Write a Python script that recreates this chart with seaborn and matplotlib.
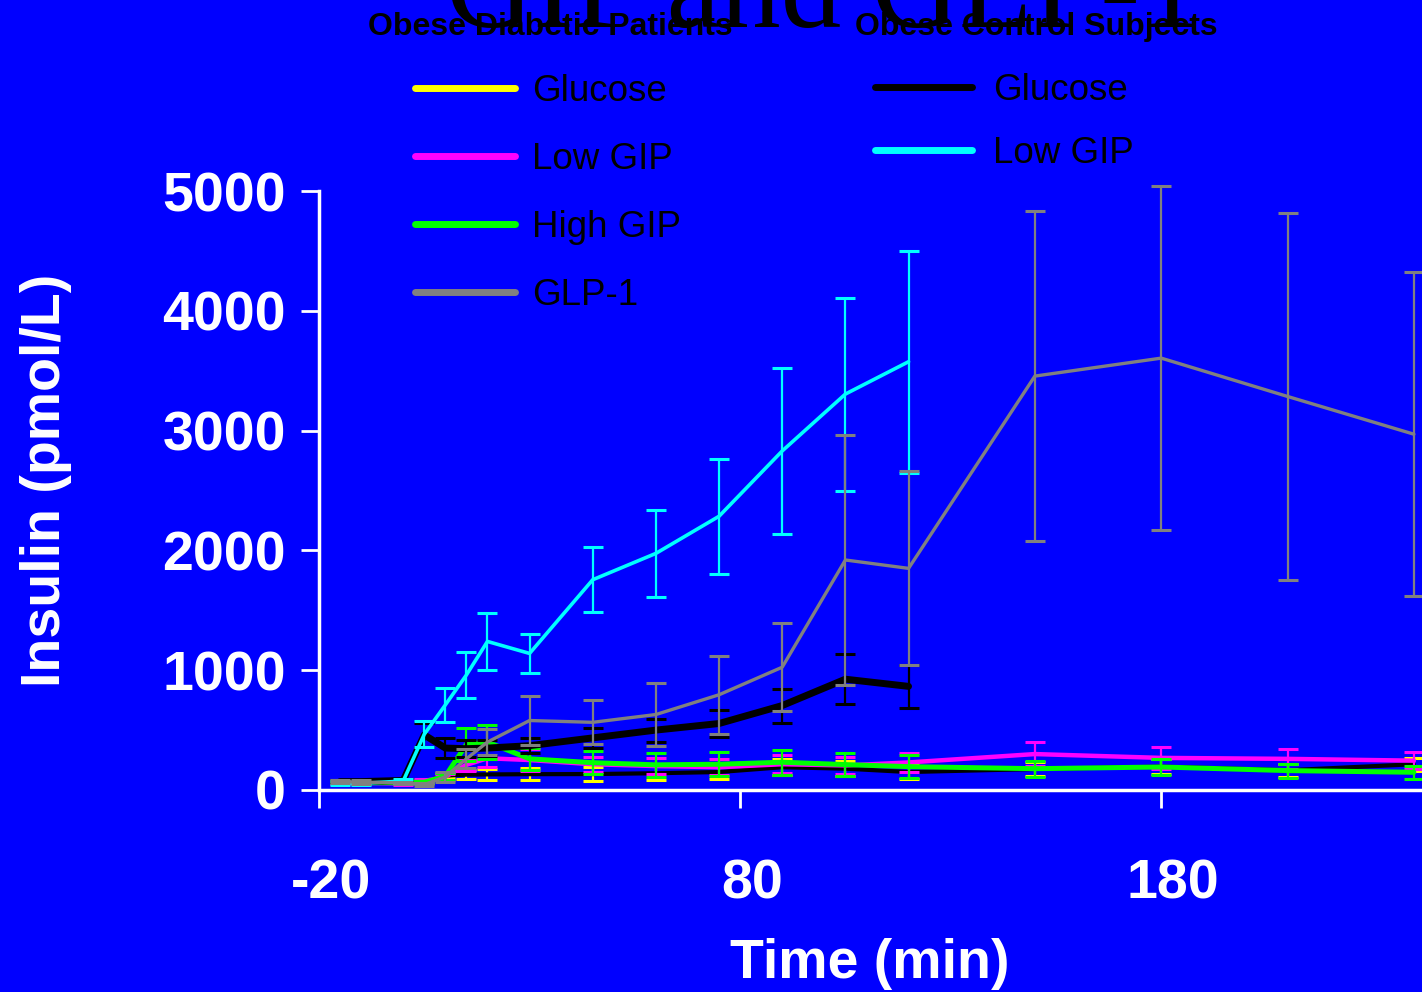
import matplotlib
matplotlib.use("Agg")
import matplotlib.pyplot as plt
import matplotlib.transforms as mtransforms
from matplotlib.lines import Line2D
import numpy as np
import pandas as pd
import seaborn as sns

# ---------------- data ----------------
t_control = [-15, -10, 0, 5, 10, 15, 20, 30, 45, 60, 75, 90, 105, 120]
t_diabetic = [-15, -10, 0, 5, 10, 15, 20, 30, 45, 60, 75, 90, 105, 120, 150, 180, 210, 240]

# Obese diabetic patients
diab_glucose = [70, 70, 68, 70, 120, 128, 130, 132, 133, 140, 150, 190, 178, 150, 175, 195, 165, 215]
diab_glucose_err = [10, 10, 10, 12, 20, 40, 45, 50, 55, 60, 60, 65, 65, 60, 60, 60, 55, 55]
diab_lowgip = [60, 60, 55, 75, 110, 210, 265, 250, 215, 200, 190, 215, 205, 230, 300, 268, 260, 245]
diab_lowgip_err = [10, 10, 10, 15, 25, 50, 75, 95, 63, 67, 65, 75, 70, 80, 100, 90, 85, 70]
diab_highgip = [65, 60, 62, 65, 115, 380, 400, 260, 228, 210, 215, 232, 212, 195, 178, 192, 162, 148]
diab_highgip_err = [10, 10, 10, 12, 30, 140, 145, 92, 95, 100, 100, 105, 98, 95, 67, 65, 58, 55]
diab_glp1 = [70, 65, 60, 45, 110, 260, 400, 580, 565, 630, 795, 1025, 1920, 1850, 3455, 3605, 3285, 2970]
diab_glp1_err = [15, 15, 10, 15, 40, 80, 110, 205, 185, 260, 325, 367, 1040, 810, 1378, 1435, 1531, 1352]

# Obese control subjects
ctrl_glucose = [70, 70, 80, 460, 350, 345, 350, 370, 435, 500, 555, 705, 925, 865]
ctrl_glucose_err = [10, 10, 15, 100, 80, 70, 70, 60, 85, 96, 113, 142, 208, 180]
ctrl_lowgip = [60, 55, 75, 465, 710, 960, 1240, 1140, 1755, 1975, 2285, 2830, 3305, 3575]
ctrl_lowgip_err = [15, 15, 15, 110, 145, 190, 240, 165, 270, 365, 480, 690, 805, 925]

x_ticks = [-20, 80, 180]
y_ticks = [0, 1000, 2000, 3000, 4000, 5000]

title = "GIP and GLP-1"
group_titles = ["Obese Diabetic Patients", "Obese Control Subjects"]
diab_labels = ["Glucose", "Low GIP", "High GIP", "GLP-1"]
ctrl_labels = ["Glucose", "Low GIP"]

# ---------------- style ----------------
sns.set_style("ticks")
plt.rcParams["font.family"] = ["Liberation Sans", "DejaVu Sans"]

BLUE = "#0000FF"
W, H = 1422, 992
fig = plt.figure(figsize=(W / 100, H / 100), dpi=100, facecolor=BLUE)

x_left_px, x_right_px = 319, 1456
y_top_px, y_bot_px = 191, 790
ax = fig.add_axes([x_left_px / W, 1 - y_bot_px / H,
                   (x_right_px - x_left_px) / W, (y_bot_px - y_top_px) / H])
ax.set_facecolor(BLUE)

def series(t, v, e, color, lw, ecolor=None, z=2):
    df = pd.DataFrame({"t": t, "v": v})
    eb = ax.errorbar(t, v, yerr=e, fmt="none", ecolor=ecolor or color,
                     elinewidth=1.6, capsize=7, capthick=2.2, zorder=z)
    for art in eb.lines[1] + eb.lines[2]:
        art.set_clip_on(False)
    sns.lineplot(data=df, x="t", y="v", color=color, linewidth=lw,
                 ax=ax, legend=False, zorder=z + 0.5)

series(t_diabetic, diab_glucose, diab_glucose_err, "black", 3.0, ecolor="#FFFF00", z=2)
series(t_diabetic, diab_lowgip, diab_lowgip_err, "#FF00FF", 3.2, z=3)
series(t_diabetic, diab_highgip, diab_highgip_err, "#00FF00", 3.6, z=4)
series(t_control, ctrl_glucose, ctrl_glucose_err, "black", 5.0, z=5)
series(t_control, ctrl_lowgip, ctrl_lowgip_err, "#00FFFF", 2.6, z=6)
series(t_diabetic, diab_glp1, diab_glp1_err, "#808080", 2.4, z=7)

ax.set_xlim(-20, 250)
ax.set_ylim(0, 5000)
ax.set_xticks(x_ticks)
ax.set_yticks(y_ticks)
ax.set_xticklabels([str(v) for v in x_ticks])
ax.set_yticklabels([str(v) for v in y_ticks])

for s in ["top", "right"]:
    ax.spines[s].set_visible(False)
for s in ["left", "bottom"]:
    ax.spines[s].set_color("white")
    ax.spines[s].set_linewidth(2.5)

ax.tick_params(axis="both", direction="out", length=13, width=2, color="white",
               labelcolor="white")
ax.tick_params(axis="x", pad=36, labelsize=40)
ax.tick_params(axis="y", pad=11, labelsize=40)
for lab in ax.get_xticklabels() + ax.get_yticklabels():
    lab.set_fontweight("bold")
offset = mtransforms.ScaledTranslation(12 / 100, 0, fig.dpi_scale_trans)
for lab in ax.get_xticklabels():
    lab.set_transform(lab.get_transform() + offset)
ax.xaxis.get_major_ticks()[0].tick1line.set_color("black")
ax.yaxis.get_major_ticks()[0].tick1line.set_color("black")

ax.set_xlabel("Time (min)", fontsize=40, fontweight="bold", color="white")
ax.set_ylabel("Insulin (pmol/L)", fontsize=40, fontweight="bold", color="white")
ax.xaxis.set_label_coords((869.5 - x_left_px) / (x_right_px - x_left_px),
                          (y_bot_px - 938) / (y_bot_px - y_top_px))
ax.yaxis.set_label_coords((72 - x_left_px) / (x_right_px - x_left_px),
                          (y_bot_px - 480) / (y_bot_px - y_top_px))

# title (cut at top)
fig.text(823 / W, 1 - 27 / H, title, family=["Liberation Serif", "DejaVu Serif"],
         fontsize=87, ha="center", va="baseline", color="black")

# legend group titles
fig.text(550 / W, 1 - 35 / H, group_titles[0], fontsize=23, fontweight="bold",
         ha="center", va="baseline", color="black")
fig.text(1036 / W, 1 - 35 / H, group_titles[1], fontsize=23, fontweight="bold",
         ha="center", va="baseline", color="black")

diab_colors = ["#FFFF00", "#FF00FF", "#00FF00", "#808080"]
ctrl_colors = ["black", "#00FFFF"]
fs_leg = 26.5
fs_px = fs_leg * 100 / 72
h1 = [Line2D([], [], color=c, lw=5) for c in diab_colors]
h2 = [Line2D([], [], color=c, lw=5) for c in ctrl_colors]
leg1 = fig.legend(h1, diab_labels, loc="upper left", bbox_to_anchor=(415 / W, 1 - 74 / H),
                  frameon=False, fontsize=fs_leg, handlelength=100 / fs_px,
                  handletextpad=17 / fs_px, labelspacing=0.9,
                  borderpad=0, borderaxespad=0, labelcolor="black")
leg2 = fig.legend(h2, ctrl_labels, loc="upper left", bbox_to_anchor=(875 / W, 1 - 73 / H),
                  frameon=False, fontsize=fs_leg, handlelength=97 / fs_px,
                  handletextpad=21 / fs_px, labelspacing=0.76,
                  borderpad=0, borderaxespad=0, labelcolor="black")

fig.savefig("out.png", dpi=100, facecolor=BLUE)
